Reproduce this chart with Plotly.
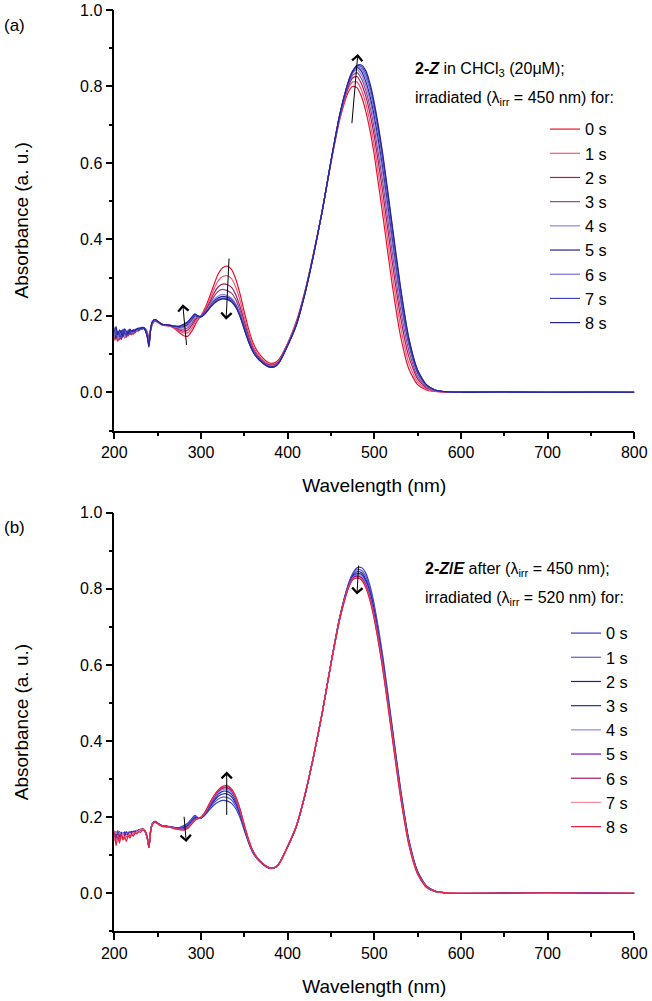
import plotly.graph_objects as go

# ---------------- data ----------------
WAVELENGTH = [200, 202, 204, 206, 208, 210, 212, 214, 216, 218, 220, 222, 224, 226, 228, 230, 232, 234, 236, 238,
              240, 242, 244, 247, 250,
              255, 260, 265, 270, 275, 280, 285, 290, 293, 296,
              300, 305, 310, 315, 320, 325, 330, 335, 340, 345, 350, 355, 360, 365, 370, 375, 380, 385, 390,
              400, 410, 420, 430, 440, 450, 460, 470,
              475, 480, 485, 490, 495, 500,
              510, 520, 530, 540, 550, 560, 570, 580,
              600, 650, 700, 750, 800]

TIME_LABELS = ["0 s", "1 s", "2 s", "3 s", "4 s", "5 s", "6 s", "7 s", "8 s"]

# Panel (a): 2-Z irradiated at 450 nm
A_0S = [.140, .152, .133, .148, .138, .150, .142, .155, .147, .156, .150, .160, .156, .163, .160, .166, .165, .168, .166, .158,
        .142, .162, .178, .186, .183,
        .176, .174, .172, .166, .156, .148, .147, .162, .175, .188,
        .200, .222, .250, .282, .310, .326, .330, .322, .297, .258, .210, .165, .130, .108, .093, .082, .076, .077, .086,
        .128, .185, .265, .365, .475, .600, .712, .785,
        .800, .797, .775, .737, .685, .620,
        .460, .292, .150, .060, .020, .006, .002, .001,
        .000, .000, .001, .000, .000]
A_1S = [.148, .136, .150, .141, .153, .145, .151, .146, .158, .150, .157, .154, .162, .158, .165, .163, .168, .166, .165, .156,
        .138, .163, .180, .187, .183,
        .177, .175, .173, .168, .160, .155, .156, .170, .182, .192,
        .200, .218, .242, .270, .292, .303, .305, .298, .276, .241, .197, .155, .122, .102, .088, .078, .073, .074, .083,
        .127, .183, .263, .364, .475, .602, .716, .794,
        .812, .812, .792, .757, .707, .645,
        .490, .322, .175, .075, .027, .008, .003, .001,
        .000, .001, .000, .000, .000]
A_2S = [.135, .150, .142, .155, .139, .152, .148, .144, .155, .152, .159, .152, .160, .161, .163, .167, .166, .169, .164, .154,
        .135, .164, .181, .188, .184,
        .177, .175, .173, .169, .163, .160, .163, .177, .188, .195,
        .199, .214, .235, .259, .276, .283, .282, .275, .256, .225, .185, .146, .116, .097, .084, .075, .071, .072, .081,
        .126, .181, .262, .363, .475, .603, .719, .800,
        .822, .826, .808, .776, .729, .670,
        .520, .352, .200, .092, .035, .011, .004, .001,
        .001, .000, .000, .001, .000]
A_3S = [.155, .140, .148, .137, .152, .146, .156, .149, .151, .158, .153, .158, .155, .164, .162, .164, .169, .167, .163, .152,
        .132, .165, .182, .188, .184,
        .178, .176, .174, .170, .166, .165, .169, .183, .193, .197,
        .199, .211, .230, .250, .264, .269, .266, .260, .243, .214, .176, .140, .112, .094, .082, .073, .069, .070, .079,
        .125, .179, .261, .362, .475, .604, .721, .805,
        .829, .836, .821, .791, .747, .690,
        .546, .378, .222, .108, .042, .014, .005, .002,
        .000, .000, .001, .000, .000]
A_4S = [.145, .158, .139, .152, .147, .160, .143, .157, .152, .155, .160, .156, .163, .159, .166, .165, .167, .168, .162, .150,
        .128, .166, .183, .189, .185,
        .178, .176, .174, .171, .168, .169, .174, .188, .197, .198,
        .198, .209, .226, .242, .252, .256, .253, .247, .232, .206, .170, .136, .109, .092, .080, .072, .068, .069, .079,
        .124, .178, .260, .361, .475, .604, .722, .808,
        .834, .844, .831, .803, .762, .707,
        .567, .400, .240, .120, .048, .017, .005, .002,
        .000, .001, .000, .000, .001]
A_5S = [.160, .142, .155, .146, .162, .149, .158, .150, .161, .154, .158, .161, .158, .165, .164, .168, .166, .169, .162, .149,
        .125, .166, .184, .190, .185,
        .178, .176, .175, .172, .170, .172, .178, .192, .200, .199,
        .198, .208, .223, .238, .247, .251, .249, .243, .228, .203, .168, .134, .108, .091, .080, .071, .067, .068, .078,
        .123, .177, .259, .361, .475, .605, .723, .810,
        .837, .849, .840, .814, .775, .722,
        .585, .418, .255, .128, .052, .018, .006, .002,
        .001, .000, .000, .000, .000]
A_6S = [.150, .165, .143, .158, .150, .163, .152, .160, .154, .162, .156, .163, .160, .162, .167, .165, .170, .167, .161, .147,
        .122, .167, .184, .190, .186,
        .178, .176, .175, .172, .171, .175, .181, .195, .202, .200,
        .198, .207, .222, .236, .244, .247, .246, .240, .226, .201, .166, .133, .107, .090, .079, .071, .066, .068, .078,
        .123, .176, .259, .360, .475, .605, .724, .811,
        .839, .852, .847, .825, .789, .737,
        .600, .432, .266, .134, .055, .019, .006, .002,
        .000, .000, .001, .000, .000]
A_7S = [.170, .148, .160, .152, .142, .165, .155, .148, .163, .157, .161, .158, .165, .163, .165, .169, .168, .170, .161, .146,
        .120, .167, .185, .190, .186,
        .178, .176, .175, .173, .172, .177, .183, .197, .204, .200,
        .198, .207, .221, .234, .242, .245, .244, .238, .224, .200, .165, .132, .106, .090, .079, .070, .066, .067, .077,
        .122, .176, .258, .360, .475, .605, .725, .812,
        .840, .854, .852, .834, .799, .748,
        .611, .442, .274, .138, .057, .020, .006, .002,
        .001, .000, .000, .001, .000]
A_8S = [.158, .172, .150, .163, .155, .147, .166, .158, .152, .165, .159, .163, .161, .166, .168, .166, .170, .168, .160, .145,
        .118, .168, .185, .191, .186,
        .178, .177, .175, .173, .173, .178, .185, .198, .205, .200,
        .197, .206, .220, .232, .240, .244, .243, .237, .223, .199, .165, .132, .106, .090, .079, .070, .065, .067, .077,
        .122, .175, .258, .360, .475, .605, .725, .812,
        .840, .855, .856, .842, .808, .757,
        .620, .450, .280, .140, .058, .020, .006, .002,
        .000, .001, .000, .000, .000]

# Panel (b): 2-Z/E photostationary mixture irradiated at 520 nm
B_0S = [.160, .148, .165, .152, .158, .150, .162, .155, .160, .157, .162, .158, .164, .162, .166, .168, .169, .168, .160, .146,
        .120, .166, .184, .189, .185,
        .178, .177, .175, .173, .173, .178, .185, .198, .205, .200,
        .197, .206, .220, .232, .240, .244, .243, .237, .223, .199, .165, .132, .106, .090, .079, .070, .065, .067, .077,
        .122, .175, .258, .360, .475, .605, .725, .812,
        .840, .855, .856, .842, .808, .757,
        .620, .450, .280, .140, .058, .020, .006, .002,
        .000, .001, .000, .000, .000]
B_1S = [.152, .163, .147, .158, .149, .160, .153, .162, .156, .160, .158, .164, .160, .165, .165, .167, .168, .169, .161, .146,
        .121, .166, .184, .189, .185,
        .178, .176, .175, .173, .172, .176, .182, .195, .202, .199,
        .198, .208, .224, .238, .248, .253, .252, .246, .230, .204, .168, .134, .107, .091, .079, .070, .066, .067, .077,
        .122, .175, .258, .360, .475, .605, .724, .810,
        .837, .850, .849, .834, .800, .750,
        .613, .445, .276, .138, .057, .019, .006, .002,
        .001, .000, .000, .000, .000]
B_2S = [.145, .157, .150, .162, .146, .155, .158, .150, .161, .154, .163, .157, .162, .161, .167, .165, .169, .167, .160, .145,
        .120, .165, .183, .189, .184,
        .178, .176, .175, .172, .171, .173, .179, .192, .199, .198,
        .198, .209, .227, .243, .255, .261, .261, .254, .237, .209, .171, .136, .108, .091, .080, .071, .066, .068, .078,
        .122, .175, .258, .360, .475, .604, .723, .808,
        .834, .845, .843, .826, .792, .742,
        .606, .440, .272, .136, .056, .019, .006, .002,
        .000, .000, .001, .000, .000]
B_3S = [.158, .143, .156, .149, .161, .147, .156, .160, .152, .162, .156, .160, .163, .162, .164, .168, .167, .169, .160, .146,
        .122, .166, .183, .188, .184,
        .177, .176, .174, .172, .170, .171, .177, .190, .197, .198,
        .199, .211, .230, .247, .261, .268, .268, .261, .243, .213, .174, .137, .109, .092, .080, .071, .066, .068, .078,
        .123, .176, .258, .360, .475, .604, .722, .806,
        .831, .840, .838, .820, .786, .736,
        .601, .436, .269, .134, .055, .018, .005, .002,
        .000, .001, .000, .000, .001]
B_4S = [.150, .162, .145, .160, .152, .158, .149, .157, .159, .153, .160, .159, .158, .166, .163, .166, .169, .168, .161, .147,
        .121, .165, .183, .188, .184,
        .177, .176, .174, .171, .169, .170, .175, .188, .195, .197,
        .199, .212, .232, .250, .265, .273, .273, .266, .247, .216, .176, .138, .110, .092, .080, .071, .067, .068, .078,
        .123, .176, .259, .361, .475, .603, .721, .805,
        .829, .837, .834, .815, .781, .731,
        .597, .432, .266, .132, .054, .018, .005, .002,
        .001, .000, .000, .000, .000]
B_5S = [.142, .155, .147, .138, .156, .148, .157, .151, .158, .156, .158, .162, .160, .163, .166, .167, .168, .167, .161, .147,
        .122, .165, .182, .188, .184,
        .177, .175, .174, .171, .168, .169, .174, .187, .194, .197,
        .199, .213, .234, .253, .268, .276, .277, .270, .250, .218, .177, .139, .110, .093, .081, .071, .067, .068, .078,
        .123, .176, .259, .361, .475, .603, .720, .804,
        .827, .834, .830, .811, .777, .727,
        .593, .429, .263, .130, .053, .017, .005, .002,
        .000, .000, .000, .001, .000]
B_6S = [.138, .150, .156, .142, .152, .144, .154, .148, .157, .150, .160, .156, .163, .161, .165, .166, .169, .168, .162, .148,
        .123, .164, .182, .188, .184,
        .177, .175, .173, .170, .168, .168, .173, .186, .193, .196,
        .200, .214, .235, .255, .270, .278, .279, .272, .252, .220, .178, .140, .111, .093, .081, .072, .067, .068, .078,
        .123, .177, .259, .361, .476, .603, .720, .803,
        .826, .832, .828, .808, .774, .724,
        .590, .426, .261, .129, .052, .017, .005, .002,
        .000, .001, .000, .000, .000]
B_7S = [.148, .130, .152, .140, .146, .155, .143, .153, .149, .158, .152, .160, .157, .162, .164, .167, .167, .169, .162, .148,
        .123, .164, .182, .187, .183,
        .177, .175, .173, .170, .167, .167, .172, .185, .192, .196,
        .200, .214, .236, .256, .271, .280, .281, .274, .254, .221, .179, .140, .111, .093, .081, .072, .067, .068, .078,
        .124, .177, .260, .361, .476, .603, .719, .802,
        .825, .830, .826, .806, .771, .721,
        .588, .424, .259, .128, .051, .016, .005, .002,
        .001, .000, .000, .000, .001]
B_8S = [.165, .125, .150, .132, .155, .140, .148, .136, .152, .145, .155, .150, .158, .156, .162, .160, .165, .166, .162, .149,
        .121, .163, .181, .187, .183,
        .176, .175, .173, .170, .167, .166, .171, .184, .191, .196,
        .200, .215, .237, .257, .272, .281, .283, .275, .255, .222, .180, .141, .111, .093, .081, .072, .067, .068, .078,
        .124, .177, .260, .362, .476, .603, .719, .801,
        .824, .828, .824, .804, .769, .719,
        .585, .421, .257, .126, .050, .016, .005, .002,
        .000, .000, .001, .000, .000]

SERIES_A = [A_0S, A_1S, A_2S, A_3S, A_4S, A_5S, A_6S, A_7S, A_8S]
SERIES_B = [B_0S, B_1S, B_2S, B_3S, B_4S, B_5S, B_6S, B_7S, B_8S]

COLORS_A = ["#e8112d", "#f4577a", "#a51d5a", "#8a4a86", "#9b7fe3", "#25258c", "#7272d6", "#4444c2", "#24249e"]
COLORS_B = ["#3a3ac6", "#5c5cd4", "#23238e", "#1f2fae", "#8b8be6", "#8412bb", "#a3175f", "#f08a99", "#e81e3c"]

# arrows (tail -> tip) in data coordinates
ARROWS_A = [((332.5, 0.354), (329.0, 0.19)), ((283.5, 0.12), (279.0, 0.23)), ((474.0, 0.70), (481.0, 0.885))]
ARROWS_B = [((329.7, 0.202), (329.7, 0.32)), ((280.4, 0.205), (283.0, 0.135)), ((482.0, 0.865), (480.0, 0.785))]

# ---------------- figure ----------------
W, H = 652, 1001
FONT = "Liberation Sans, Arial, sans-serif"

fig = go.Figure()
for name, ys, col in zip(TIME_LABELS, SERIES_A, COLORS_A):
    fig.add_trace(go.Scatter(x=WAVELENGTH, y=ys, mode="lines", name=name,
                             line=dict(color=col, width=1.2, shape="spline", smoothing=0.6),
                             xaxis="x", yaxis="y", legend="legend"))
for name, ys, col in zip(TIME_LABELS, SERIES_B, COLORS_B):
    fig.add_trace(go.Scatter(x=WAVELENGTH, y=ys, mode="lines", name=name,
                             line=dict(color=col, width=1.2, shape="spline", smoothing=0.6),
                             xaxis="x2", yaxis="y2", legend="legend2"))


def px_x(p):
    return p / W


def px_y(p):
    return 1 - p / H


xdom = [px_x(114.3), px_x(634.3)]
common = dict(showline=True, linecolor="black", linewidth=1.5, ticks="outside", ticklen=7,
              tickwidth=1.5, tickcolor="black", showgrid=False, zeroline=False, automargin=False,
              tickfont=dict(family=FONT, size=16, color="black"))
xcommon = dict(common, range=[200, 800], tick0=200, dtick=100,
               minor=dict(dtick=50, ticks="outside", ticklen=4, tickwidth=1.5, tickcolor="black"),
               title=dict(text="Wavelength (nm)", font=dict(family=FONT, size=19, color="black"), standoff=18))
ycommon = dict(common, range=[-0.1, 1.0], tick0=0, dtick=0.2, tickformat=".1f",
               minor=dict(dtick=0.1, ticks="outside", ticklen=4, tickwidth=1.5, tickcolor="black"),
               title=dict(text="Absorbance (a. u.)", font=dict(family=FONT, size=19, color="black"), standoff=46))

LEG_FONT = dict(family=FONT, size=16.3, color="black")
fig.update_layout(
    template="none", width=W, height=H, autosize=False,
    margin=dict(l=0, r=0, t=0, b=0),
    paper_bgcolor="white", plot_bgcolor="white",
    xaxis=dict(xcommon, domain=xdom, anchor="y"),
    yaxis=dict(ycommon, domain=[px_y(430.5), px_y(10)], anchor="x"),
    xaxis2=dict(xcommon, domain=xdom, anchor="y2"),
    yaxis2=dict(ycommon, domain=[px_y(931.4), px_y(512.7)], anchor="x2"),
    legend=dict(x=px_x(545), y=px_y(112), xanchor="left", yanchor="top", bgcolor="rgba(0,0,0,0)",
                borderwidth=0, font=LEG_FONT, itemwidth=30),
    legend2=dict(x=px_x(566), y=px_y(616), xanchor="left", yanchor="top", bgcolor="rgba(0,0,0,0)",
                 borderwidth=0, font=LEG_FONT, itemwidth=30),
    showlegend=True,
)

ann = []
txt = dict(family=FONT, size=16, color="black")
ann.append(dict(text="<b>2-<i>Z</i></b> in CHCl<sub>3</sub> (20μM);", x=px_x(413), y=px_y(69),
                xref="paper", yref="paper", xanchor="left", yanchor="middle", showarrow=False, font=txt))
ann.append(dict(text="irradiated (λ<sub>irr</sub> = 450 nm) for:", x=px_x(413), y=px_y(98),
                xref="paper", yref="paper", xanchor="left", yanchor="middle", showarrow=False, font=txt))
ann.append(dict(text="<b>2-<i>Z</i>/<i>E</i></b> after (λ<sub>irr</sub> = 450 nm);", x=px_x(423), y=px_y(569),
                xref="paper", yref="paper", xanchor="left", yanchor="middle", showarrow=False, font=txt))
ann.append(dict(text="irradiated (λ<sub>irr</sub> = 520 nm) for:", x=px_x(423), y=px_y(598),
                xref="paper", yref="paper", xanchor="left", yanchor="middle", showarrow=False, font=txt))
ann.append(dict(text="(a)", x=px_x(2), y=px_y(25), xref="paper", yref="paper", xanchor="left",
                yanchor="middle", showarrow=False, font=dict(family=FONT, size=17, color="black")))
ann.append(dict(text="(b)", x=px_x(2), y=px_y(527), xref="paper", yref="paper", xanchor="left",
                yanchor="middle", showarrow=False, font=dict(family=FONT, size=17, color="black")))

for arrows, xr, yr in ((ARROWS_A, "x", "y"), (ARROWS_B, "x2", "y2")):
    for (tx, ty), (hx, hy) in arrows:
        ann.append(dict(x=hx, y=hy, ax=tx, ay=ty, xref=xr, yref=yr, axref=xr, ayref=yr,
                        showarrow=True, arrowhead=4, arrowsize=2.0, arrowwidth=1.0, arrowcolor="black",
                        text=""))

fig.update_layout(annotations=ann)
fig.write_html("out.html",
               config={"displayModeBar": False},
               post_script="document.body.style.margin='0';document.body.style.padding='0';"
                           "document.body.style.overflow='hidden';")
